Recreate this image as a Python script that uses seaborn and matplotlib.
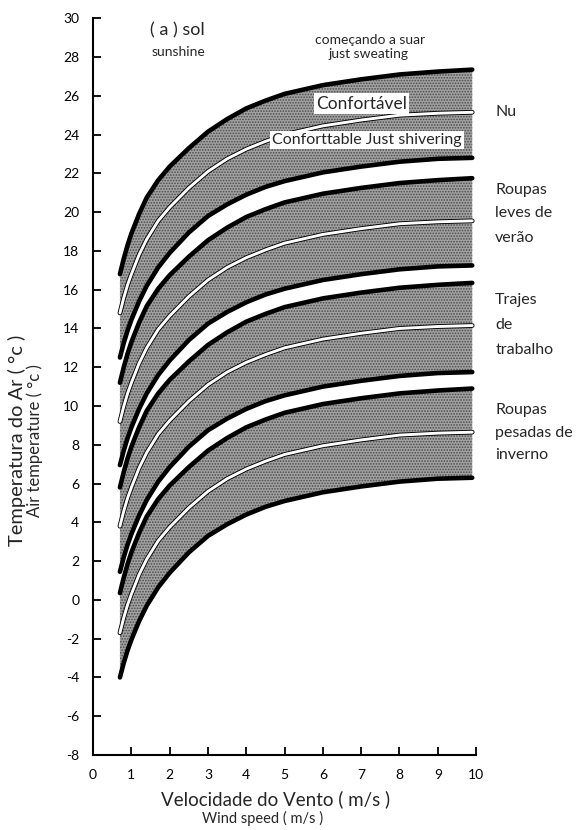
import matplotlib
matplotlib.use("Agg")
import matplotlib.pyplot as plt
import seaborn as sns
import pandas as pd

# ---------------- data ----------------
wind_speed = [0.7, 0.8, 0.9, 1.0, 1.2, 1.4, 1.7, 2.0, 2.5, 3.0, 3.5, 4.0, 4.5, 5.0, 6.0, 7.0, 8.0, 9.0, 9.9]

nu_upper = [16.8, 17.6, 18.3, 18.9, 19.9, 20.75, 21.65, 22.35, 23.3, 24.15, 24.8, 25.35, 25.75, 26.1, 26.55, 26.85, 27.1, 27.25, 27.35]
nu_comfort = [14.8, 15.58, 16.25, 16.8, 17.8, 18.6, 19.55, 20.25, 21.25, 22.1, 22.75, 23.25, 23.65, 24.0, 24.45, 24.75, 25.0, 25.1, 25.15]
nu_lower = [12.5, 13.25, 13.9, 14.45, 15.4, 16.2, 17.15, 17.9, 18.95, 19.8, 20.4, 20.9, 21.3, 21.6, 22.05, 22.35, 22.6, 22.75, 22.8]

leves_upper = [11.2, 12.0, 12.7, 13.3, 14.3, 15.15, 16.05, 16.75, 17.7, 18.55, 19.2, 19.75, 20.15, 20.5, 20.95, 21.25, 21.5, 21.65, 21.75]
leves_comfort = [9.2, 9.98, 10.65, 11.2, 12.2, 13.0, 13.95, 14.65, 15.65, 16.5, 17.15, 17.65, 18.05, 18.4, 18.85, 19.15, 19.4, 19.5, 19.55]
leves_lower = [6.95, 7.7, 8.35, 8.9, 9.85, 10.65, 11.6, 12.35, 13.4, 14.25, 14.85, 15.35, 15.75, 16.05, 16.5, 16.8, 17.05, 17.2, 17.25]

trajes_upper = [5.8, 6.6, 7.3, 7.9, 8.9, 9.75, 10.65, 11.35, 12.3, 13.15, 13.8, 14.35, 14.75, 15.1, 15.55, 15.85, 16.1, 16.25, 16.35]
trajes_comfort = [3.8, 4.58, 5.25, 5.8, 6.8, 7.6, 8.55, 9.25, 10.25, 11.1, 11.75, 12.25, 12.65, 13.0, 13.45, 13.75, 14.0, 14.1, 14.15]
trajes_lower = [1.45, 2.2, 2.85, 3.4, 4.35, 5.15, 6.1, 6.85, 7.9, 8.75, 9.35, 9.85, 10.25, 10.55, 11.0, 11.3, 11.55, 11.7, 11.75]

pesadas_upper = [0.35, 1.15, 1.85, 2.45, 3.45, 4.3, 5.2, 5.9, 6.85, 7.7, 8.35, 8.9, 9.3, 9.65, 10.1, 10.4, 10.65, 10.8, 10.9]
pesadas_comfort = [-1.7, -0.92, -0.25, 0.3, 1.3, 2.1, 3.05, 3.75, 4.75, 5.6, 6.25, 6.75, 7.15, 7.5, 7.95, 8.25, 8.5, 8.6, 8.65]
pesadas_lower = [-4.0, -3.25, -2.6, -2.05, -1.1, -0.3, 0.65, 1.4, 2.45, 3.3, 3.9, 4.4, 4.8, 5.1, 5.55, 5.85, 6.1, 6.25, 6.3]

band_labels = [["Nu"], ["Roupas", "leves de", "verão"], ["Trajes", "de", "trabalho"], ["Roupas", "pesadas de", "inverno"]]
band_label_y = [[25.15], [21.13, 19.95, 18.66], [15.46, 14.18, 12.89], [9.79, 8.61, 7.47]]

x_ticks = [0, 1, 2, 3, 4, 5, 6, 7, 8, 9, 10]
y_ticks = [-8, -6, -4, -2, 0, 2, 4, 6, 8, 10, 12, 14, 16, 18, 20, 22, 24, 26, 28, 30]

# ---------------- style ----------------
sns.set_style("ticks")
plt.rcParams["font.family"] = ["Lato", "DejaVu Sans"]
plt.rcParams["axes.unicode_minus"] = False
plt.rcParams["hatch.linewidth"] = 0.8

fig = plt.figure(figsize=(5.82, 8.30), dpi=100)
ax = fig.add_axes([0.160, 0.0904, 0.658, 0.8876])

bands = [
    (nu_upper, nu_comfort, nu_lower),
    (leves_upper, leves_comfort, leves_lower),
    (trajes_upper, trajes_comfort, trajes_lower),
    (pesadas_upper, pesadas_comfort, pesadas_lower),
]

for upper, comfort, lower in bands:
    df = pd.DataFrame({"v": wind_speed, "up": upper, "mid": comfort, "lo": lower})
    ax.fill_between(df["v"], df["lo"], df["up"], facecolor="#a2a2a2",
                    edgecolor="#4a4a4a", hatch="......", linewidth=0, zorder=1)
    sns.lineplot(data=df, x="v", y="up", ax=ax, color="black", linewidth=3.3,
                 sort=False, estimator=None, zorder=3)
    sns.lineplot(data=df, x="v", y="lo", ax=ax, color="black", linewidth=3.3,
                 sort=False, estimator=None, zorder=3)
    sns.lineplot(data=df, x="v", y="mid", ax=ax, color="black", linewidth=3.4,
                 sort=False, estimator=None, zorder=3)
    sns.lineplot(data=df, x="v", y="mid", ax=ax, color="white", linewidth=2.1,
                 sort=False, estimator=None, zorder=4)

ax.set_xlim(0, 10)
ax.set_ylim(-8, 30)
ax.set_xticks(x_ticks)
ax.set_yticks(y_ticks)
ax.set_xticklabels([str(t) for t in x_ticks], fontsize=10)
ax.set_yticklabels([str(t) for t in y_ticks], fontsize=10)
ax.tick_params(axis="both", direction="in", length=6, width=1.3, color="black",
               labelcolor="black")
ax.tick_params(axis="x", pad=10)
ax.tick_params(axis="y", pad=10)
sns.despine(ax=ax)
for s in ["left", "bottom"]:
    ax.spines[s].set_linewidth(1.5)
    ax.spines[s].set_color("black")
ax.set_xlabel("")
ax.set_ylabel("")

# ---------------- annotations ----------------
ax.text(2.19, 29.38, "( a ) sol", fontsize=13, ha="center", va="center")
ax.text(2.22, 28.25, "sunshine", fontsize=10, ha="center", va="center")
ax.text(7.23, 28.87, "começando a suar", fontsize=10, ha="center", va="center")
ax.text(7.18, 28.15, "just sweating", fontsize=10, ha="center", va="center")
ax.text(7.02, 25.6, "Confortável", fontsize=12.5, ha="center", va="center", zorder=6,
        bbox=dict(facecolor="white", edgecolor="none", pad=1.5))
ax.text(7.15, 23.7, "Conforttable Just shivering", fontsize=11.5, ha="center", va="center",
        zorder=6, bbox=dict(facecolor="white", edgecolor="none", pad=1.5))

for lines, ys in zip(band_labels, band_label_y):
    for txt, yy in zip(lines, ys):
        ax.text(10.5, yy, txt, fontsize=11.5, ha="left", va="center", clip_on=False)

fig.text(17 / 582, 1 - 440 / 830, "Temperatura do Ar ( °c )", rotation=90, fontsize=14.5,
         ha="center", va="center")
fig.text(35 / 582, 1 - 441 / 830, "Air temperature ( °c )", rotation=90, fontsize=12,
         ha="center", va="center")
fig.text(276 / 582, 1 - 799 / 830, "Velocidade do Vento ( m/s )", fontsize=13.5,
         ha="center", va="center")
fig.text(263 / 582, 1 - 818 / 830, "Wind speed ( m/s )", fontsize=10.5,
         ha="center", va="center")

fig.savefig("out.png", dpi=100, facecolor="white")
